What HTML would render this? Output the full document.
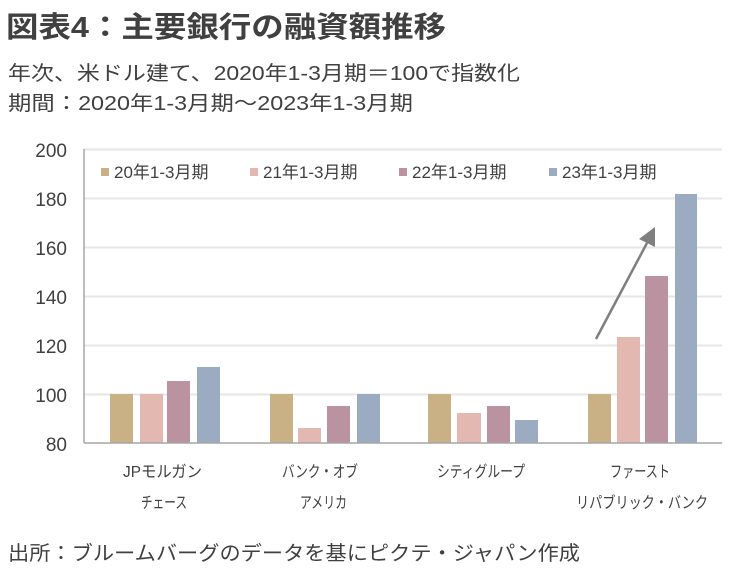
<!DOCTYPE html>
<html><head><meta charset="utf-8"><style>
body{margin:0;background:#fff;}
svg{display:block;font-family:"Liberation Sans","Noto Sans CJK JP",sans-serif;}
</style></head><body>
<svg width="740" height="573" viewBox="0 0 740 573" xmlns="http://www.w3.org/2000/svg">
<text x="6" y="37" font-size="29" font-weight="bold" fill="#404040" textLength="440" lengthAdjust="spacingAndGlyphs">図表4：主要銀行の融資額推移</text>
<text x="8" y="80" font-size="20" fill="#404040" textLength="512" lengthAdjust="spacingAndGlyphs">年次、米ドル建て、2020年1-3月期＝100で指数化</text>
<text x="8" y="110" font-size="20" fill="#404040" textLength="405" lengthAdjust="spacingAndGlyphs">期間：2020年1-3月期～2023年1-3月期</text>
<g stroke="#e6e6e6" stroke-width="2">
<line x1="84" x2="722" y1="149.5" y2="149.5"/>
<line x1="84" x2="722" y1="198.5" y2="198.5"/>
<line x1="84" x2="722" y1="247.5" y2="247.5"/>
<line x1="84" x2="722" y1="296.5" y2="296.5"/>
<line x1="84" x2="722" y1="345.5" y2="345.5"/>
<line x1="84" x2="722" y1="394.5" y2="394.5"/>
</g>
<line x1="84" x2="84" y1="149" y2="443" stroke="#a6a6a6" stroke-width="1.5"/>
<g font-size="19" fill="#404040" text-anchor="end">
<text x="67" y="157">200</text><text x="67" y="206">180</text><text x="67" y="255">160</text>
<text x="67" y="304">140</text><text x="67" y="353">120</text><text x="67" y="402">100</text><text x="67" y="451">80</text>
</g>
<g>
<rect x="101" y="168" width="8" height="8" fill="#c9b185"/><text x="114" y="178" font-size="17" fill="#404040">20年1-3月期</text>
<rect x="250" y="168" width="8" height="8" fill="#e2b8b0"/><text x="263" y="178" font-size="17" fill="#404040">21年1-3月期</text>
<rect x="399" y="168" width="8" height="8" fill="#bb92a0"/><text x="412" y="178" font-size="17" fill="#404040">22年1-3月期</text>
<rect x="549" y="168" width="8" height="8" fill="#9aabc2"/><text x="562" y="178" font-size="17" fill="#404040">23年1-3月期</text>
</g>
<g>
<rect x="110" y="394" width="23" height="49" fill="#c9b185"/>
<rect x="140" y="394" width="23" height="49" fill="#e2b8b0"/>
<rect x="167" y="381" width="23" height="62" fill="#bb92a0"/>
<rect x="197" y="367" width="23" height="76" fill="#9aabc2"/>
<rect x="270" y="394" width="23" height="49" fill="#c9b185"/>
<rect x="298" y="428" width="23" height="15" fill="#e2b8b0"/>
<rect x="327" y="406" width="23" height="37" fill="#bb92a0"/>
<rect x="357" y="394" width="23" height="49" fill="#9aabc2"/>
<rect x="428" y="394" width="23" height="49" fill="#c9b185"/>
<rect x="457" y="413" width="24" height="30" fill="#e2b8b0"/>
<rect x="487" y="406" width="23" height="37" fill="#bb92a0"/>
<rect x="515" y="420" width="23" height="23" fill="#9aabc2"/>
<rect x="588" y="394" width="23" height="49" fill="#c9b185"/>
<rect x="617" y="337" width="23" height="106" fill="#e2b8b0"/>
<rect x="645" y="276" width="23" height="167" fill="#bb92a0"/>
<rect x="675" y="194" width="22" height="249" fill="#9aabc2"/>
</g>
<line x1="84" x2="722" y1="443" y2="443" stroke="#a6a6a6" stroke-width="1.5"/>
<line x1="596" y1="339" x2="647" y2="243" stroke="#7f7f7f" stroke-width="2.5"/>
<polygon points="655,227 655,247 639,239" fill="#7f7f7f"/>
<g font-size="16" fill="#404040">
<text x="123" y="477" textLength="79" lengthAdjust="spacingAndGlyphs">JPモルガン</text>
<text x="141" y="508" textLength="46" lengthAdjust="spacingAndGlyphs">チェース</text>
<text x="282" y="477" textLength="76" lengthAdjust="spacingAndGlyphs">バンク・オブ</text>
<text x="300" y="508" textLength="47" lengthAdjust="spacingAndGlyphs">アメリカ</text>
<text x="437" y="477" textLength="88" lengthAdjust="spacingAndGlyphs">シティグループ</text>
<text x="610" y="477" textLength="60" lengthAdjust="spacingAndGlyphs">ファースト</text>
<text x="576" y="508" textLength="132" lengthAdjust="spacingAndGlyphs">リパブリック・バンク</text>
</g>
<text x="8" y="560" font-size="20" fill="#404040" textLength="572" lengthAdjust="spacingAndGlyphs">出所：ブルームバーグのデータを基にピクテ・ジャパン作成</text>
</svg>
</body></html>
